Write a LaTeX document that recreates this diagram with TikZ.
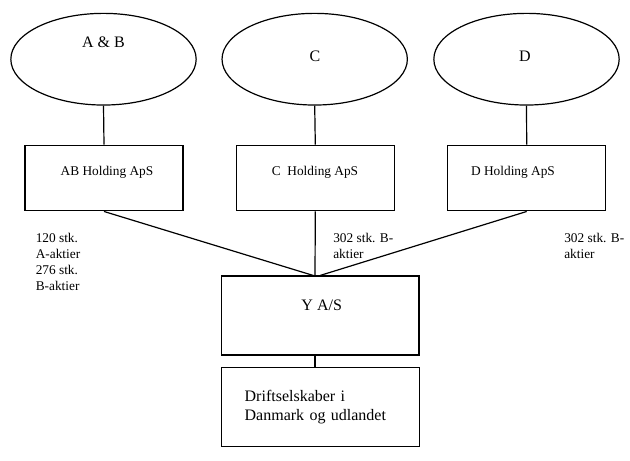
\documentclass[tikz,border=0pt]{standalone}
\usepackage{fontspec}
\setmainfont{Liberation Serif}
\usetikzlibrary{shapes.geometric,positioning}

\begin{document}
\begin{tikzpicture}[
  x=0.75pt, y=-0.75pt,
  owner/.style={ellipse, draw, line width=0.9pt, minimum width=139pt, minimum height=68.75pt, inner sep=0pt},
  box/.style={rectangle, draw, line width=0.9pt, inner sep=0pt},
  holdbox/.style={box, minimum width=118.5pt, minimum height=49.3pt},
  bigbox/.style={box, minimum width=148pt, minimum height=59.25pt},
  txt/.style={inner sep=0pt, font=\fontsize{10}{12}\selectfont},
  bigtxt/.style={inner sep=0pt, font=\fontsize{12}{14.25}\selectfont},
  share/.style={txt, anchor=north west, align=left},
  line/.style={line width=0.9pt}
]
\useasboundingbox (0,0) rectangle (630,460);

% owners
\node[owner] (ab) at (103.5,59.2) {};
\node[owner] (c) at (314.7,59.2) {};
\node[owner] (d) at (526.5,59.2) {};
\node[bigtxt] (abname) at (103.5,42) {A \& B};
\node[bigtxt] (cname) at (315,56) {C};
\node[bigtxt] (dname) at (525,56) {D};

% holding companies
\node[holdbox] (abh) at (104,178) {};
\node[holdbox] (ch) at (315.3,178) {};
\node[holdbox] (dh) at (526.7,178) {};
\node[txt] (abhname) at (107,172) {AB Holding ApS};
\node[txt] (chname) at (315,172) {C\ \ Holding ApS};
\node[txt] (dhname) at (513,172) {D Holding ApS};

% Y A/S and the companies below
\node[bigbox] (yas) at (320.3,315.5) {};
\node[bigtxt] (yasname) at (321.7,305) {Y A/S};
\node[bigbox, inner xsep=17pt, text width=113.75pt, align=left, font=\fontsize{12}{14.25}\selectfont] (drift) at (320.5,407.3) {Driftselskaber i\\Danmark og udlandet};

% shares
\node[share] (abshare) at (35.5,233) {120 stk.\\A-aktier\\276 stk.\\B-aktier};
\node[share] (cshare) at (333,233) {302 stk. B-\\aktier};
\node[share] (dshare) at (564,233) {302 stk. B-\\aktier};

% lines
\coordinate (meet) at (315,276);
\draw[line] (ab.south) -- (abh.north);
\draw[line] (c.south) -- (ch.north);
\draw[line] (d.south) -- (dh.north);
\draw[line] (abh.south) -- (meet);
\draw[line] (ch.south) -- (meet);
\draw[line] (dh.south) -- (yas.north);
\draw[line] (meet |- yas.south) -- (meet |- drift.north);

\end{tikzpicture}
\end{document}
